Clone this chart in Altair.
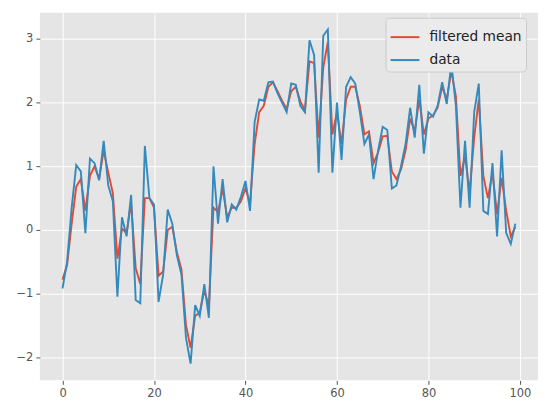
import altair as alt
import pandas as pd

idx = list(range(100))

data_vals = [
    -0.92, -0.50, 0.35, 1.02, 0.92, -0.05, 1.12, 1.05, 0.78, 1.40,
    0.70, 0.45, -1.05, 0.20, -0.10, 0.55, -1.10, -1.15, 1.32, 0.50,
    0.40, -1.13, -0.70, 0.32, 0.10, -0.40, -0.70, -1.70, -2.10, -1.18,
    -1.35, -0.85, -1.38, 1.00, 0.10, 0.80, 0.12, 0.40, 0.32, 0.52,
    0.77, 0.30, 1.70, 2.05, 2.03, 2.32, 2.33, 2.15, 2.00, 1.85,
    2.30, 2.28, 1.95, 1.85, 2.98, 2.75, 0.90, 3.05, 3.15, 0.90,
    2.00, 1.10, 2.25, 2.40, 2.30, 1.85, 1.35, 1.50, 0.80, 1.25,
    1.62, 1.57, 0.65, 0.70, 1.00, 1.35, 1.92, 1.45, 2.28, 1.20,
    1.85, 1.78, 1.95, 2.32, 1.98, 2.62, 1.95, 0.35, 1.40, 0.35,
    1.85, 2.30, 0.30, 0.25, 1.05, -0.10, 1.25, -0.05, -0.22, 0.10,
]

filtered_vals = [
    -0.78, -0.55, 0.10, 0.68, 0.80, 0.30, 0.85, 1.00, 0.80, 1.25,
    0.90, 0.58, -0.45, 0.02, -0.05, 0.42, -0.60, -0.85, 0.50, 0.50,
    0.35, -0.72, -0.65, 0.00, 0.05, -0.35, -0.62, -1.50, -1.85, -1.35,
    -1.30, -0.95, -1.20, 0.35, 0.28, 0.65, 0.20, 0.35, 0.35, 0.45,
    0.65, 0.42, 1.35, 1.85, 1.95, 2.25, 2.32, 2.18, 2.03, 1.90,
    2.18, 2.25, 2.02, 1.88, 2.65, 2.62, 1.45, 2.55, 2.95, 1.50,
    1.85, 1.35, 2.05, 2.25, 2.25, 1.95, 1.50, 1.55, 1.05, 1.22,
    1.47, 1.48, 0.92, 0.80, 0.95, 1.25, 1.75, 1.55, 2.05, 1.50,
    1.75, 1.80, 1.92, 2.25, 2.05, 2.50, 2.10, 0.85, 1.15, 0.60,
    1.45, 2.05, 0.85, 0.50, 0.90, 0.25, 0.82, 0.30, -0.10, 0.05,
]

series_names = ["filtered mean", "data"]
series_colors = ["#E24A33", "#348ABD"]

df_f = pd.DataFrame({"x": idx, "y": filtered_vals, "series": series_names[0]})
df_d = pd.DataFrame({"x": idx, "y": data_vals, "series": series_names[1]})

x_enc = alt.X("x:Q", scale=alt.Scale(domain=[-4.95, 103.95], nice=False, zero=False),
              axis=alt.Axis(values=[0, 20, 40, 60, 80, 100], title=None))
y_enc = alt.Y("y:Q", scale=alt.Scale(domain=[-2.3625, 3.4125], nice=False, zero=False),
              axis=alt.Axis(values=[-2, -1, 0, 1, 2, 3], title=None))
color_enc = alt.Color("series:N",
                      scale=alt.Scale(domain=series_names, range=series_colors),
                      legend=alt.Legend(title=None, orient="none", legendX=347, legendY=5,
                                        symbolType="stroke", symbolSize=840,
                                        symbolStrokeWidth=2, labelFontSize=13.8,
                                        labelFont="DejaVu Sans", labelColor="#222222",
                                        labelOffset=9,
                                        fillColor="#EBEBEB", strokeColor="#CCCCCC",
                                        cornerRadius=4, padding=4, rowPadding=-9))

red = alt.Chart(df_f).mark_line(strokeWidth=1.9).encode(x=x_enc, y=y_enc, color=color_enc)
blue = alt.Chart(df_d).mark_line(strokeWidth=1.9).encode(x=x_enc, y=y_enc, color=color_enc)

chart = alt.layer(red, blue).properties(
    width=500, height=369,
    autosize=alt.AutoSizeParams(type="none"),
    padding={"left": 32, "top": 4, "right": 0, "bottom": 30},
).configure_view(
    fill="#E5E5E5", stroke=None
).configure_axis(
    grid=True, gridColor="#FFFFFF", gridWidth=1,
    domain=False, tickColor="#555555", tickSize=4,
    labelColor="#555555", labelFont="DejaVu Sans", labelFontSize=11.5,
    labelPadding=3,
)

chart.save("out.html", embed_options={"renderer": "svg", "actions": False})
